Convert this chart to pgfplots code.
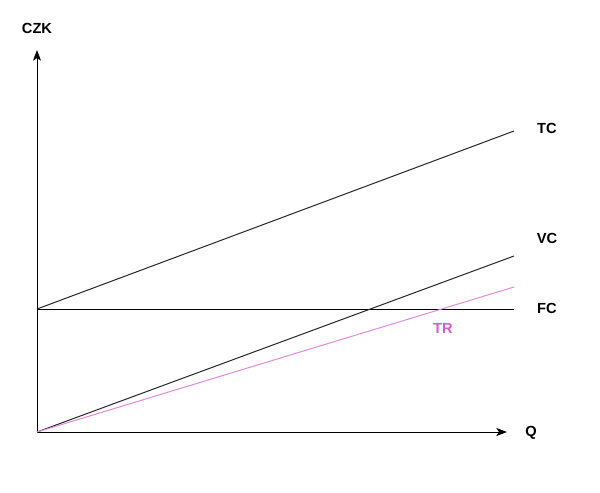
\documentclass[border=0pt]{standalone}
\usepackage{pgfplots}
\pgfplotsset{compat=1.18}
\usepackage{fontspec}
\setmainfont{Liberation Sans}
\usetikzlibrary{arrows.meta}
\definecolor{trline}{RGB}{226,138,220}
\definecolor{trtext}{RGB}{206,96,200}
\tikzset{lbl/.style={font=\fontsize{11}{13}\selectfont\bfseries}}
\begin{document}
\begin{tikzpicture}
\begin{axis}[
  name=ax,
  scale only axis, width=450pt, height=369pt,
  xmin=-37, xmax=563, ymin=-60, ymax=432,
  hide axis, clip=false,
]
% axes
\addplot[black, line width=0.75pt, -{Stealth[length=8pt,width=6pt,inset=2pt]}] coordinates {(0,0) (470,0)};
\addplot[black, line width=0.75pt, -{Stealth[length=8pt,width=6pt,inset=2pt]}] coordinates {(0,0) (0,382)};
% FC
\addplot[black, line width=0.75pt] coordinates {(0,123) (477,123)};
% TC
\addplot[black!85, line width=0.75pt] coordinates {(0,123) (477,301)};
% VC
\addplot[black!85, line width=0.75pt] coordinates {(0,0) (477,176)};
% TR
\addplot[trline, line width=0.75pt] coordinates {(0,0) (477,145)};
\node[lbl] at (axis cs:0,404) {CZK};
\node[lbl] at (axis cs:494,-1) {Q};
\node[lbl] at (axis cs:510,304) {TC};
\node[lbl] at (axis cs:510,194) {VC};
\node[lbl] at (axis cs:510,124) {FC};
\node[lbl,text=trtext] at (axis cs:406,104) {TR};
\end{axis}
\path[use as bounding box] (ax.south west) rectangle (ax.north east);
\end{tikzpicture}
\end{document}
